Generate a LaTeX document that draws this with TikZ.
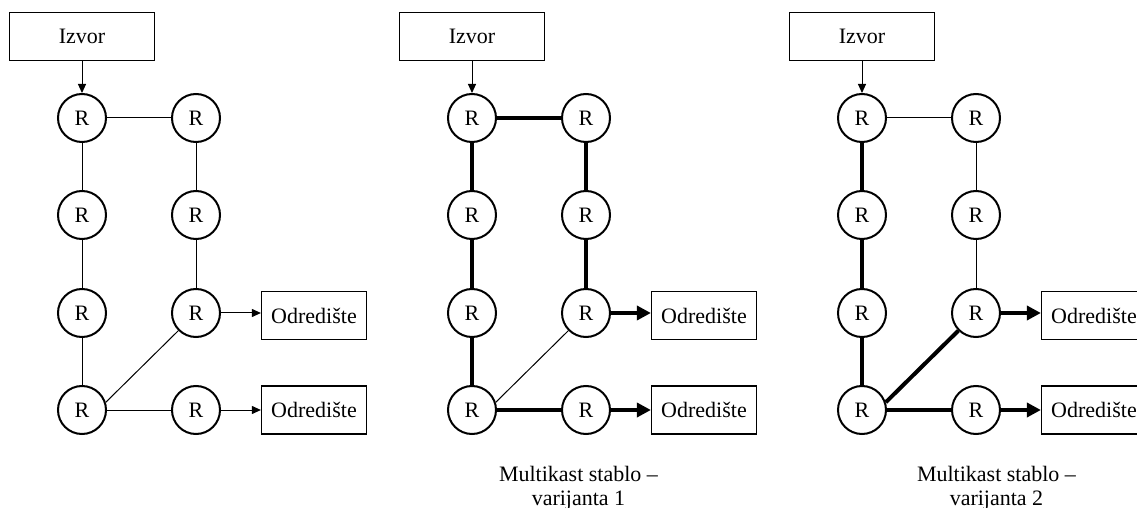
\documentclass[tikz,border=0pt]{standalone}
\usepackage{fontspec}
\setmainfont{Liberation Serif}
\usetikzlibrary{arrows.meta}
\begin{document}
\begin{tikzpicture}[x=0.5pt,y=-0.5pt,
  every node/.style={font=\fontsize{11}{12}\selectfont},
  router/.style={circle,draw,line width=1pt,minimum size=24pt,inner sep=0pt},
  srcbox/.style={draw,line width=0.6pt,minimum width=72.5pt,minimum height=24pt,inner sep=0pt},
  dstbox/.style={draw,line width=0.6pt,minimum width=52.5pt,minimum height=24pt,inner sep=0pt},
  lite/.style={line width=0.5pt},
  bold/.style={line width=2pt},
  litearrow/.style={line width=0.5pt,-{Triangle[length=4.5pt,width=4pt]}},
  boldarrow/.style={line width=2pt,-{Triangle[length=7pt,width=7pt]}},
  caption/.style={anchor=north,align=center,inner sep=0pt},
]
\useasboundingbox (0,0) rectangle (1137,508);
\clip (0,0) rectangle (1137,508);

% three copies of the network; the styles pick which links form the tree
% \ox: horizontal offset, \sT: top link, \sL: left column, \sR: right column,
% \sD: diagonal, \sB: bottom link, \sA: links into the destinations
\foreach \p/\ox/\sT/\sL/\sR/\sD/\sB/\sA in {
    1/0/lite/lite/lite/lite/lite/litearrow,
    2/390/bold/bold/bold/lite/bold/boldarrow,
    3/780/lite/bold/lite/bold/bold/boldarrow} {
  \begin{scope}[xshift=\ox*0.5pt]
    \node[srcbox] (src-\p) at (82,36.5) {Izvor};
    \node[router] (r11-\p) at (82,118) {R};
    \node[router] (r12-\p) at (196,118) {R};
    \node[router] (r21-\p) at (82,215) {R};
    \node[router] (r22-\p) at (196,215) {R};
    \node[router] (r31-\p) at (82,313) {R};
    \node[router] (r32-\p) at (196,313) {R};
    \node[router] (r41-\p) at (82,410) {R};
    \node[router] (r42-\p) at (196,410) {R};
    \node[dstbox] (d1-\p) at (314,315.5) {Odredište};
    \node[dstbox] (d2-\p) at (314,410) {Odredište};

    \draw[litearrow] (src-\p) -- (r11-\p);
    \draw[\sT] (r11-\p) -- (r12-\p);
    \draw[\sL] (r11-\p) -- (r21-\p);
    \draw[\sL] (r21-\p) -- (r31-\p);
    \draw[\sL] (r31-\p) -- (r41-\p);
    \draw[\sR] (r12-\p) -- (r22-\p);
    \draw[\sR] (r22-\p) -- (r32-\p);
    \draw[\sD] (r41-\p.18) -- (r32-\p.225);
    \draw[\sB] (r41-\p) -- (r42-\p);
    \draw[\sA] (r32-\p.east) -- (r32-\p.east -| d1-\p.west);
    \draw[\sA] (r42-\p) -- (d2-\p);
  \end{scope}
}

\node[caption] (cap-2) at (578.5,466) {Multikast stablo –\\varijanta 1};
\node[caption] (cap-3) at (996.5,466) {Multikast stablo –\\varijanta 2};
\end{tikzpicture}
\end{document}
